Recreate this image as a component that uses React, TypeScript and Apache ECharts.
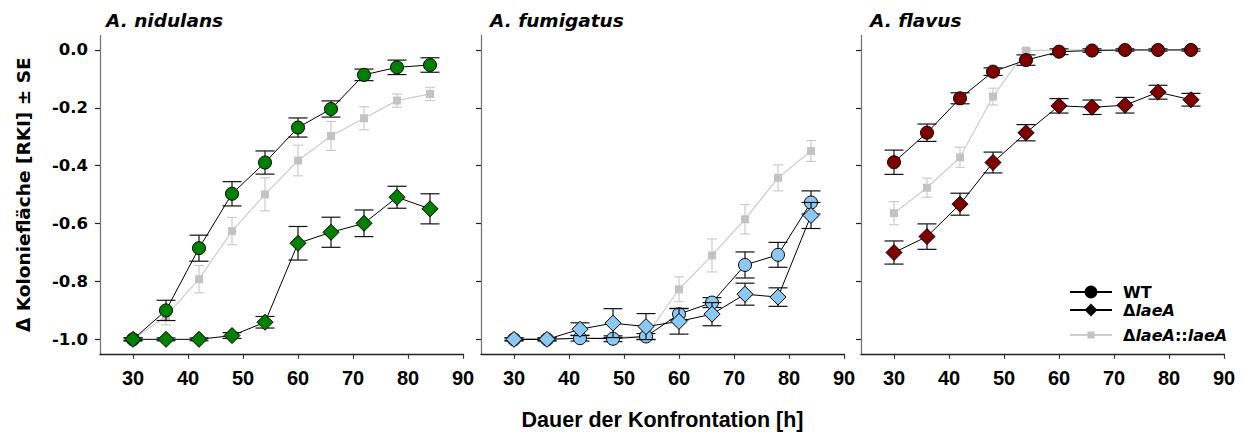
import React, { useEffect, useRef } from 'react';
import * as echarts from 'echarts';

const hours = [30, 36, 42, 48, 54, 60, 66, 72, 78, 84];
const xTicks = [30, 40, 50, 60, 70, 80, 90];
const yTicks = [-1.0, -0.8, -0.6, -0.4, -0.2, 0.0];
const panelTitles = ['A. nidulans', 'A. fumigatus', 'A. flavus'];
const legendNames = ['WT', 'ΔlaeA', 'ΔlaeA::laeA'];
const yAxisTitle = 'Δ Koloniefläche [RKI] ± SE';
const xAxisTitle = 'Dauer der Konfrontation [h]';

// A. nidulans
const nidWT = [-1.0, -0.9, -0.685, -0.497, -0.389, -0.268, -0.204, -0.086, -0.06, -0.052];
const nidWTse = [0.005, 0.035, 0.045, 0.042, 0.04, 0.033, 0.028, 0.02, 0.025, 0.025];
const nidDel = [-1.0, -1.0, -1.0, -0.987, -0.941, -0.668, -0.63, -0.599, -0.509, -0.549];
const nidDelSe = [0.005, 0.005, 0.005, 0.01, 0.02, 0.058, 0.052, 0.046, 0.038, 0.052];
const nidComp = [-1.0, -0.92, -0.792, -0.626, -0.499, -0.382, -0.297, -0.236, -0.175, -0.152];
const nidCompSe = [0.005, 0.03, 0.047, 0.047, 0.057, 0.053, 0.05, 0.04, 0.023, 0.023];

// A. fumigatus
const fumWT = [-1.0, -1.0, -0.996, -0.998, -0.99, -0.913, -0.873, -0.743, -0.708, -0.527];
const fumWTse = [0.005, 0.005, 0.01, 0.01, 0.01, 0.02, 0.017, 0.045, 0.043, 0.04];
const fumDel = [-1.0, -1.0, -0.965, -0.944, -0.956, -0.938, -0.913, -0.844, -0.854, -0.572];
const fumDelSe = [0.005, 0.005, 0.022, 0.05, 0.045, 0.044, 0.04, 0.038, 0.032, 0.045];
const fumComp = [-1.0, -1.0, -0.997, -0.993, -0.99, -0.827, -0.71, -0.585, -0.442, -0.349];
const fumCompSe = [0.005, 0.005, 0.005, 0.008, 0.01, 0.043, 0.057, 0.051, 0.045, 0.036];

// A. flavus
const flaWT = [-0.388, -0.286, -0.167, -0.075, -0.035, -0.006, -0.002, 0, 0, 0];
const flaWTse = [0.042, 0.03, 0.019, 0.013, 0.018, 0.01, 0.006, 0.004, 0.004, 0.004];
const flaDel = [-0.7, -0.645, -0.533, -0.389, -0.286, -0.193, -0.198, -0.191, -0.146, -0.172];
const flaDelSe = [0.04, 0.044, 0.038, 0.036, 0.028, 0.025, 0.025, 0.027, 0.024, 0.022];
const flaComp = [-0.564, -0.476, -0.371, -0.161, -0.002, 0, 0, 0, 0, 0];
const flaCompSe = [0.04, 0.033, 0.035, 0.029, 0.005, 0.004, 0.004, 0.004, 0.004, 0.004];

const WIDE = '"DejaVu Sans", "Liberation Sans", Arial, sans-serif';
const NARROW = '"Liberation Sans", Arial, Helvetica, sans-serif';
const panelColors = ['#008000', '#8cc8f5', '#800000'];
const greyMarker = '#c3c3c3';
const greyLine = '#cccccc';

const panels = [
  { wt: nidWT, wtSe: nidWTse, del: nidDel, delSe: nidDelSe, comp: nidComp, compSe: nidCompSe },
  { wt: fumWT, wtSe: fumWTse, del: fumDel, delSe: fumDelSe, comp: fumComp, compSe: fumCompSe },
  { wt: flaWT, wtSe: flaWTse, del: flaDel, delSe: flaDelSe, comp: flaComp, compSe: flaCompSe },
];

const gridLefts = [100, 481, 861];
const titleLefts = [106, 490, 870];

function errData(v: number[], se: number[]) {
  return hours.map((h, k) => [h, v[k] - se[k], v[k] + se[k]]);
}

function errSeries(idx: number, v: number[], se: number[], color: string, cap: number, z: number) {
  return {
    type: 'custom',
    xAxisIndex: idx,
    yAxisIndex: idx,
    z,
    silent: true,
    data: errData(v, se),
    encode: { x: 0, y: [1, 2] },
    renderItem: (params: any, api: any) => {
      const x = api.value(0);
      const lo = api.value(1);
      const hi = api.value(2);
      const top = api.coord([x, hi]);
      const bot = api.coord([x, lo]);
      const hw = cap / 2;
      const style = { stroke: color, lineWidth: 1.2 };
      return {
        type: 'group',
        children: [
          { type: 'line', shape: { x1: top[0], y1: top[1], x2: bot[0], y2: bot[1] }, style },
          { type: 'line', shape: { x1: top[0] - hw, y1: top[1], x2: top[0] + hw, y2: top[1] }, style },
          { type: 'line', shape: { x1: bot[0] - hw, y1: bot[1], x2: bot[0] + hw, y2: bot[1] }, style },
        ],
      };
    },
  };
}

function lineSeries(idx: number, name: string, v: number[], opts: any) {
  return {
    type: 'line',
    name,
    xAxisIndex: idx,
    yAxisIndex: idx,
    data: hours.map((h, k) => [h, v[k]]),
    ...opts,
  };
}

export default function App() {
  const ref = useRef<HTMLDivElement>(null);
  useEffect(() => {
    if (!ref.current) return;
    const chart = echarts.init(ref.current, null, { renderer: 'svg' });

    const series: any[] = [];
    panels.forEach((p, i) => {
      const col = panelColors[i];
      series.push(errSeries(i, p.comp, p.compSe, greyLine, 10, 1));
      series.push(
        lineSeries(i, 'comp' + i, p.comp, {
          z: 2,
          symbol: 'rect',
          symbolSize: 8,
          itemStyle: { color: greyMarker },
          lineStyle: { color: greyLine, width: 1.2 },
        })
      );
      series.push(errSeries(i, p.wt, p.wtSe, '#111', 19, 3));
      series.push(
        lineSeries(i, 'wt' + i, p.wt, {
          z: 4,
          symbol: 'circle',
          symbolSize: 13,
          itemStyle: { color: col, borderColor: '#000', borderWidth: 1 },
          lineStyle: { color: '#000', width: 1 },
        })
      );
      series.push(errSeries(i, p.del, p.delSe, '#111', 19, 5));
      series.push(
        lineSeries(i, 'del' + i, p.del, {
          z: 6,
          symbol: 'diamond',
          symbolSize: 16,
          itemStyle: { color: col, borderColor: '#000', borderWidth: 1 },
          lineStyle: { color: '#000', width: 1 },
        })
      );
    });

    // legend entries
    series.push({
      type: 'line', name: legendNames[0], xAxisIndex: 2, yAxisIndex: 2, data: [],
      symbol: 'circle', itemStyle: { color: '#000' }, lineStyle: { color: '#000', width: 1.3 },
    });
    series.push({
      type: 'line', name: legendNames[1], xAxisIndex: 2, yAxisIndex: 2, data: [],
      symbol: 'diamond', itemStyle: { color: '#000' }, lineStyle: { color: '#000', width: 1.3 },
    });
    series.push({
      type: 'line', name: legendNames[2], xAxisIndex: 2, yAxisIndex: 2, data: [],
      symbol: 'rect', itemStyle: { color: greyMarker }, lineStyle: { color: greyLine, width: 1.3 },
    });

    const rich = {
      s: { width: 6 },
      b: { fontFamily: WIDE, fontWeight: 'bold', fontSize: 16, color: '#000', lineHeight: 18 },
      i: { fontFamily: WIDE, fontWeight: 'bold', fontStyle: 'italic', fontSize: 16, color: '#000', lineHeight: 18 },
    };
    const legendFormatter = (name: string) => {
      if (name === legendNames[0]) return '{s|}{b|WT}';
      if (name === legendNames[1]) return '{s|}{b|Δ}{i|laeA}';
      return '{s|}{b|Δ}{i|laeA}{b|::}{i|laeA}';
    };

    const option: any = {
      animation: false,
      title: panelTitles.map((t, i) => ({
        text: t,
        left: titleLefts[i],
        top: 11,
        padding: 0,
        textStyle: { fontFamily: WIDE, fontSize: 18.5, fontWeight: 'bold', fontStyle: 'italic', color: '#000' },
      })),
      legend: [
        {
          data: [legendNames[0], legendNames[1]],
          orient: 'vertical',
          left: 1069,
          top: 284,
          padding: 0,
          itemWidth: 42,
          itemHeight: 16,
          itemGap: 2,
          selectedMode: false,
          formatter: legendFormatter,
          textStyle: { fontFamily: WIDE, fontSize: 16, fontWeight: 'bold', color: '#000', rich },
        },
        {
          data: [legendNames[2]],
          orient: 'vertical',
          left: 1069,
          top: 327,
          padding: 0,
          itemWidth: 42,
          itemHeight: 9,
          selectedMode: false,
          formatter: legendFormatter,
          textStyle: { fontFamily: WIDE, fontSize: 16, fontWeight: 'bold', color: '#000', rich },
        },
      ],
      grid: gridLefts.map((l) => ({
        left: l,
        top: 35.5,
        width: 363,
        height: 318.3,
        containLabel: false,
        outerBoundsMode: 'none',
      })),
      xAxis: gridLefts.map((_, i) => ({
        type: 'value',
        gridIndex: i,
        min: 24,
        max: 90,
        name: i === 1 ? xAxisTitle : '',
        nameLocation: 'middle',
        nameGap: 55,
        nameTextStyle: { fontFamily: NARROW, fontSize: 21.5, fontWeight: 'bold', color: '#000' },
        axisLine: { onZero: false, lineStyle: { color: '#222', width: 1.3 } },
        axisTick: { show: true, length: 5, customValues: xTicks, lineStyle: { color: '#333', width: 1.2 } },
        axisLabel: {
          customValues: xTicks,
          margin: 14,
          fontFamily: NARROW,
          fontSize: 20,
          fontWeight: 'bold',
          color: '#000',
        },
        splitLine: { show: false },
      })),
      yAxis: gridLefts.map((_, i) => ({
        type: 'value',
        gridIndex: i,
        min: -1.05,
        max: 0.05,
        name: i === 0 ? yAxisTitle : '',
        nameLocation: 'middle',
        nameGap: 67,
        nameTextStyle: { fontFamily: WIDE, fontSize: 18.5, fontWeight: 'bold', color: '#000' },
        axisLine: { show: true, onZero: false, lineStyle: { color: '#777', width: 1.3 } },
        axisTick: { show: true, length: 5, customValues: yTicks, lineStyle: { color: '#222', width: 1.2 } },
        axisLabel: {
          show: i === 0,
          customValues: yTicks,
          margin: 12,
          fontFamily: WIDE,
          fontSize: 16.5,
          fontWeight: 'bold',
          color: '#000',
          formatter: (v: number) => v.toFixed(1),
        },
        splitLine: { show: false },
      })),
      series,
    };
    chart.setOption(option);
    return () => chart.dispose();
  }, []);

  return (
    <div
      ref={ref}
      style={{ position: 'absolute', left: 0, top: 0, width: 1244, height: 432, background: '#fff' }}
    />
  );
}
